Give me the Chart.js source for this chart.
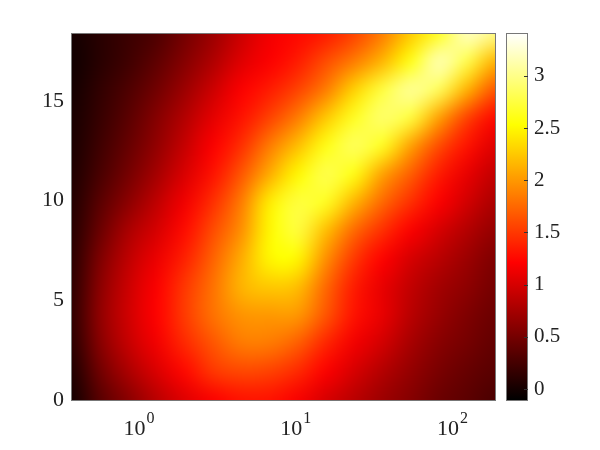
<!DOCTYPE html>
<html><head><meta charset="utf-8">
<style>html,body{margin:0;padding:0;background:#fff}#w{position:relative;width:600px;height:450px}canvas{position:absolute;left:0;top:0}</style>
<script src="https://cdn.jsdelivr.net/npm/chart.js@4/dist/chart.umd.min.js"></script>
</head><body><div id="w"><canvas id="c1" width="600" height="450"></canvas><canvas id="c2" width="600" height="450"></canvas></div>
<script>
const xColumns=[0.368,0.557,0.843,1.275,1.93,2.92,4.42,6.69,10.1,15.3,23.2,35.1,53.1,80.3,122,184];
const yRows=[18.41,17,15.58,14.16,12.75,11.33,9.91,8.5,7.08,5.66,4.25,2.83,1.42,0];
const row0=[0.0,0.1,0.2,0.3,0.5,0.7,0.95,1.15,1.25,1.35,1.55,1.85,2.25,2.65,3.2,3.0];
const row1=[-0.02,0.1,0.22,0.38,0.58,0.8,1.05,1.2,1.35,1.6,1.85,2.15,2.6,3.15,2.8,2.15];
const row2=[0.0,0.15,0.3,0.48,0.7,0.95,1.2,1.35,1.55,1.85,2.3,2.75,3.05,2.85,2.15,1.65];
const row3=[0.02,0.18,0.36,0.58,0.82,1.08,1.3,1.55,1.85,2.25,2.65,2.9,2.75,2.05,1.55,1.25];
const row4=[0.03,0.22,0.42,0.65,0.92,1.2,1.45,1.85,2.2,2.6,2.85,2.65,2.05,1.6,1.3,1.05];
const row5=[0.05,0.27,0.5,0.75,1.02,1.3,1.65,2.1,2.5,2.8,2.6,2.05,1.7,1.35,1.1,0.9];
const row6=[0.07,0.36,0.62,0.88,1.15,1.45,1.85,2.45,2.75,2.65,2.15,1.75,1.45,1.2,0.98,0.78];
const row7=[0.09,0.45,0.78,1.0,1.27,1.6,1.95,2.5,2.75,2.2,1.75,1.45,1.2,1.0,0.82,0.66];
const row8=[0.11,0.55,0.88,1.12,1.38,1.72,2.1,2.5,2.5,1.95,1.5,1.22,1.0,0.85,0.7,0.55];
const row9=[0.13,0.62,0.95,1.2,1.5,1.8,2.15,2.25,2.2,1.75,1.35,1.1,0.9,0.74,0.63,0.5];
const row10=[0.14,0.65,0.97,1.22,1.52,1.8,1.98,2.0,2.0,1.65,1.3,1.1,0.85,0.68,0.55,0.45];
const row11=[0.11,0.6,0.92,1.15,1.42,1.65,1.85,1.85,1.7,1.4,1.15,0.98,0.76,0.6,0.5,0.4];
const row12=[0.05,0.48,0.78,1.02,1.25,1.5,1.58,1.55,1.42,1.2,1.0,0.82,0.66,0.52,0.42,0.35];
const row13=[0.0,0.35,0.6,0.85,1.05,1.2,1.3,1.3,1.18,1.0,0.85,0.7,0.58,0.45,0.37,0.28];
const grid=[row0,row1,row2,row3,row4,row5,row6,row7,row8,row9,row10,row11,row12,row13];
const xTickValues=[1,10,100];
const yTickValues=[0,5,10,15];
const cbarTickValues=[0,0.5,1,1.5,2,2.5,3];
const valueMin=-0.105, valueMax=3.41;
const fontFamily='"Liberation Serif","DejaVu Serif",serif';
const inkColor='#222222';
const frameColor='#777777';

function hot(v){
  const t=Math.max(0,Math.min(1,(v-valueMin)/(valueMax-valueMin)));
  const r=Math.min(1,t/0.375), g=Math.max(0,Math.min(1,(t-0.375)/0.375)), b=Math.max(0,(t-0.75)/0.25);
  return [Math.round(r*255),Math.round(g*255),Math.round(b*255)];
}
const points=[];
grid.forEach((row,j)=>row.forEach((v,i)=>points.push({x:xColumns[i],y:yRows[j],v})));

const heatPlugin={id:'heat',
  beforeDatasetsDraw(chart){
    const nx=xColumns.length, ny=yRows.length;
    const off=document.createElement('canvas'); off.width=nx; off.height=ny;
    const oc=off.getContext('2d'); const img=oc.createImageData(nx,ny);
    points.forEach((p,k)=>{const c=hot(p.v);img.data[k*4]=c[0];img.data[k*4+1]=c[1];img.data[k*4+2]=c[2];img.data[k*4+3]=255;});
    oc.putImageData(img,0,0);
    const els=chart.getDatasetMeta(0).data;
    const a=els[0], b=els[els.length-1];
    const dx=(b.x-a.x)/(nx-1), dy=(b.y-a.y)/(ny-1);
    const ctx=chart.ctx, ca=chart.chartArea;
    ctx.save();
    ctx.beginPath();ctx.rect(ca.left,ca.top,ca.right-ca.left,ca.bottom-ca.top);ctx.clip();
    ctx.imageSmoothingEnabled=true;ctx.imageSmoothingQuality='high';
    ctx.drawImage(off,a.x-dx/2,a.y-dy/2,dx*nx,dy*ny);
    ctx.restore();
  },
  afterDraw(chart){
    const ctx=chart.ctx, ca=chart.chartArea, sx=chart.scales.x;
    ctx.save();
    ctx.strokeStyle=frameColor;ctx.lineWidth=1;
    ctx.strokeRect(ca.left-0.5,ca.top+0.5,ca.right-ca.left+1,ca.bottom-ca.top);
    ctx.fillStyle=inkColor;ctx.textBaseline='alphabetic';ctx.textAlign='left';
    xTickValues.forEach(v=>{
      const exp=String(Math.round(Math.log10(v)));
      const px=sx.getPixelForValue(v);
      ctx.font='22px '+fontFamily;
      const w=ctx.measureText('10').width;
      ctx.fillText('10',px-16.5,435);
      ctx.font='16px '+fontFamily;
      ctx.fillText(exp,px-16.5+w+1,423);
    });
    ctx.restore();
  }
};
new Chart(document.getElementById('c1'),{
  type:'scatter',
  data:{datasets:[{data:points,pointRadius:0,pointHoverRadius:0}]},
  plugins:[heatPlugin],
  options:{responsive:false,animation:false,events:[],
    layout:{padding:{left:0,top:33,right:105,bottom:0}},
    plugins:{legend:{display:false},tooltip:{enabled:false}},
    scales:{
      x:{type:'logarithmic',min:0.368,max:184,grid:{display:false},border:{display:false},
        afterBuildTicks(s){s.ticks=xTickValues.map(value=>({value}));},
        afterFit(s){s.height=50;},
        ticks:{display:false}},
      y:{type:'linear',min:0,max:18.41,grid:{display:false,drawTicks:false},border:{display:false},
        afterBuildTicks(s){s.ticks=yTickValues.map(value=>({value}));},
        afterFit(s){s.width=72;},
        ticks:{color:inkColor,font:{family:fontFamily,size:22},padding:8,autoSkip:false,maxRotation:0,callback:v=>String(v)}}
    }}
});

const cbarPlugin={id:'cbar',
  afterDraw(chart){
    const ctx=chart.ctx, ca=chart.chartArea, sy=chart.scales.y;
    ctx.save();
    ctx.strokeStyle=frameColor;ctx.lineWidth=1;
    ctx.strokeRect(ca.left+0.5,ca.top+0.5,ca.right-ca.left-1,ca.bottom-ca.top);
    ctx.strokeStyle='#333333';
    cbarTickValues.forEach(v=>{const y=Math.round(sy.getPixelForValue(v))+0.5;
      ctx.beginPath();ctx.moveTo(ca.right-4,y);ctx.lineTo(ca.right,y);ctx.stroke();});
    ctx.restore();
  }
};
new Chart(document.getElementById('c2'),{
  type:'bar',
  data:{labels:['colorbar'],datasets:[{data:[[valueMin,valueMax]],barPercentage:1,categoryPercentage:1,borderWidth:0,
    backgroundColor(c){
      const ca=c.chart.chartArea; if(!ca) return '#000';
      const g=c.chart.ctx.createLinearGradient(0,ca.bottom,0,ca.top);
      for(let i=0;i<=64;i++){const t=i/64;const col=hot(valueMin+t*(valueMax-valueMin));g.addColorStop(t,`rgb(${col[0]},${col[1]},${col[2]})`);}
      return g;
    }}]},
  plugins:[cbarPlugin],
  options:{responsive:false,animation:false,events:[],
    layout:{padding:{left:506,top:33,right:0,bottom:50}},
    plugins:{legend:{display:false},tooltip:{enabled:false}},
    scales:{
      x:{grid:{display:false},border:{display:false},ticks:{display:false},afterFit(s){s.height=0;}},
      y:{position:'right',min:valueMin,max:valueMax,grid:{display:false,drawTicks:false},border:{display:false},
        afterBuildTicks(s){s.ticks=cbarTickValues.map(value=>({value}));},
        afterFit(s){s.width=72;},
        ticks:{color:inkColor,font:{family:fontFamily,size:21},padding:6,autoSkip:false,callback:v=>String(v)}}
    }}
});
</script></body></html>
